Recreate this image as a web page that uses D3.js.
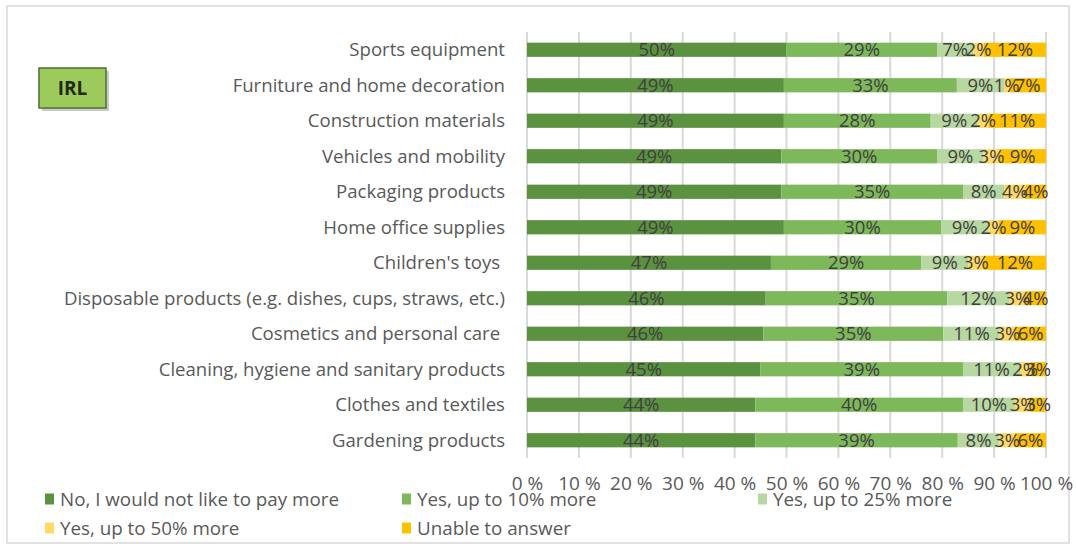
<!DOCTYPE html>
<html>
<head>
<meta charset="utf-8">
<script src="https://cdn.jsdelivr.net/npm/d3@7"></script>
<style>
  html, body { margin: 0; padding: 0; background: #ffffff; }
  svg { display: block; font-family: "Open Sans", "Noto Sans", sans-serif; }
</style>
</head>
<body>
<svg id="chart" width="1076" height="546"></svg>
<script>
// Product categories, top to bottom
const categories = [
  "Sports equipment",
  "Furniture and home decoration",
  "Construction materials",
  "Vehicles and mobility",
  "Packaging products",
  "Home office supplies",
  "Children's toys ",
  "Disposable products (e.g. dishes, cups, straws, etc.)",
  "Cosmetics and personal care ",
  "Cleaning, hygiene and sanitary products",
  "Clothes and textiles",
  "Gardening products"
];

// Answer options (series)
const seriesNames = [
  "No, I would not like to pay more",
  "Yes, up to 10% more",
  "Yes, up to 25% more",
  "Yes, up to 50% more",
  "Unable to answer"
];

// Shares per category (%), one array per answer option
const noMore      = [50, 49, 49, 49, 49, 49, 47, 46, 46, 45, 44, 44];
const upTo10      = [29, 33, 28, 30, 35, 30, 29, 35, 35, 39, 40, 39];
const upTo25      = [ 7,  9,  9,  9,  8,  9,  9, 12, 11, 11, 10,  8];
const upTo50      = [ 2,  1,  2,  3,  4,  2,  3,  3,  3,  2,  3,  3];
const unableToAns = [12,  7, 11,  9,  4,  9, 12,  4,  6,  3,  3,  6];

// Axis tick values
const tickValues = [0, 0.1, 0.2, 0.3, 0.4, 0.5, 0.6, 0.7, 0.8, 0.9, 1.0];

const colors = ["#5b9240", "#7db95b", "#b8d8a2", "#ffd966", "#ffc000"];

const seriesData = [noMore, upTo10, upTo25, upTo50, unableToAns];
const rows = categories.map((c, i) => {
  const r = { category: c };
  seriesNames.forEach((s, j) => { r[s] = seriesData[j][i]; });
  return r;
});

const svg = d3.select("#chart");

// Outer frame
svg.append("rect")
  .attr("x", 7).attr("y", 6).attr("width", 1062).attr("height", 537)
  .attr("fill", "#ffffff").attr("stroke", "#d9d9d9").attr("stroke-width", 1.5);

const plot = { left: 527, right: 1046, top: 32, bottom: 458 };

const x = d3.scaleLinear().domain([0, 1]).range([plot.left, plot.right]);
const y = d3.scaleBand().domain(categories)
  .range([plot.top, plot.bottom])
  .paddingInner(0.6).paddingOuter(0.3);

// Vertical gridlines
svg.append("g")
  .selectAll("line")
  .data(tickValues)
  .join("line")
  .attr("x1", d => x(d)).attr("x2", d => x(d))
  .attr("y1", plot.top).attr("y2", plot.bottom)
  .attr("stroke", "#d9d9d9").attr("stroke-width", 2);

// 100% stacked bars
const stack = d3.stack().keys(seriesNames).offset(d3.stackOffsetExpand);
const stacked = stack(rows);

const layers = svg.append("g").selectAll("g")
  .data(stacked)
  .join("g")
  .attr("fill", (d, i) => colors[i]);

layers.selectAll("rect")
  .data(d => d)
  .join("rect")
  .attr("x", d => x(d[0]))
  .attr("width", d => x(d[1]) - x(d[0]))
  .attr("y", d => y(d.data.category))
  .attr("height", y.bandwidth());

// Value labels centred on each segment
const labelLayers = svg.append("g").selectAll("g")
  .data(stacked)
  .join("g");

labelLayers.selectAll("text")
  .data(d => d.map(p => ({ p, key: d.key })))
  .join("text")
  .attr("x", d => (x(d.p[0]) + x(d.p[1])) / 2)
  .attr("y", d => y(d.p.data.category) + y.bandwidth() / 2)
  .attr("dy", "0.36em")
  .attr("text-anchor", "middle")
  .attr("font-size", 18.5)
  .attr("fill", "#404040")
  .text(d => d.p.data[d.key] + "%");

// Category labels
svg.append("g").selectAll("text")
  .data(categories)
  .join("text")
  .attr("x", 505)
  .attr("y", d => y(d) + y.bandwidth() / 2)
  .attr("dy", "0.36em")
  .attr("text-anchor", "end")
  .attr("font-size", 18.6)
  .attr("fill", "#595959")
  .style("white-space", "pre")
  .text(d => d);

// Bottom axis labels
const axis = d3.axisBottom(x)
  .tickValues(tickValues)
  .tickSize(0)
  .tickPadding(0)
  .tickFormat(d => Math.round(d * 100) + " %");

const axisG = svg.append("g")
  .attr("transform", `translate(0, ${476})`)
  .call(axis);
axisG.select(".domain").remove();
axisG.selectAll("text")
  .attr("font-family", "'Open Sans', 'Noto Sans', sans-serif")
  .attr("font-size", 19)
  .attr("fill", "#595959");

// Legend
const legendPos = [
  { x: 45, y: 499 }, { x: 402, y: 499 }, { x: 758, y: 499 },
  { x: 45, y: 528 }, { x: 402, y: 528 }
];
const legend = svg.append("g").selectAll("g")
  .data(seriesNames)
  .join("g")
  .attr("transform", (d, i) => `translate(${legendPos[i].x}, ${legendPos[i].y})`);
legend.append("rect")
  .attr("x", 0).attr("y", -5.5).attr("width", 9).attr("height", 11)
  .attr("fill", (d, i) => colors[i]);
legend.append("text")
  .attr("x", 15).attr("y", 0).attr("dy", "0.36em")
  .attr("font-size", 18.8).attr("fill", "#595959")
  .text(d => d);

// Country badge
const badge = svg.append("g");
badge.append("rect")
  .attr("x", 42).attr("y", 71).attr("width", 67).attr("height", 40)
  .attr("fill", "#a6a6a6").attr("opacity", 0.6);
badge.append("rect")
  .attr("x", 39).attr("y", 68).attr("width", 67).attr("height", 40)
  .attr("fill", "#9ccb5c").attr("stroke", "#4f6f30").attr("stroke-width", 1.5);
badge.append("text")
  .attr("x", 72.5).attr("y", 88).attr("dy", "0.36em")
  .attr("text-anchor", "middle")
  .attr("font-size", 19).attr("font-weight", "bold")
  .attr("fill", "#1f2a15")
  .text("IRL");
</script>
</body>
</html>
